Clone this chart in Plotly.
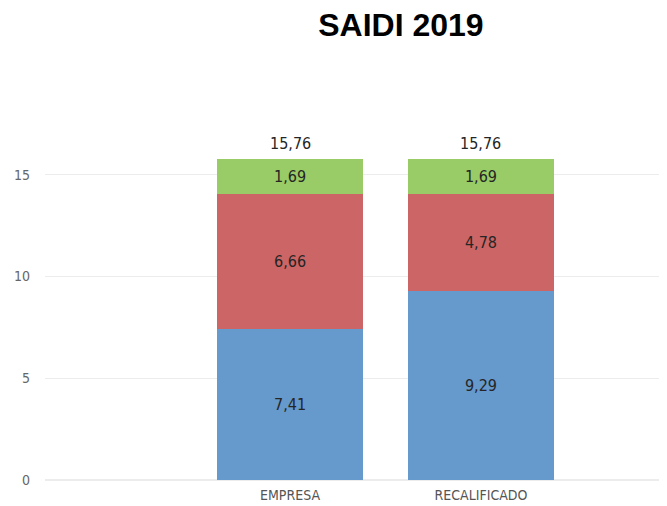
import plotly.graph_objects as go

categories = ["EMPRESA", "RECALIFICADO"]
blue_values = [7.41, 9.29]
red_values = [6.66, 4.78]
green_values = [1.69, 1.69]
totals = [15.76, 15.76]

FONT = "DejaVu Sans Condensed, Liberation Sans Narrow, sans-serif"
label_font = dict(family=FONT, size=16, color="#252525")

fig = go.Figure()

for vals, color in [(blue_values, "#6699CC"), (red_values, "#CC6666"), (green_values, "#99CC66")]:
    fig.add_trace(
        go.Bar(
            x=categories,
            y=vals,
            marker=dict(color=color, line=dict(width=0)),
            width=0.76,
            texttemplate="%{y:.2f}",
            textposition="inside",
            insidetextanchor="middle",
            textfont=label_font,
            showlegend=False,
            hoverinfo="skip",
        )
    )

# total labels above the stacks
for cat, tot in zip(categories, totals):
    fig.add_annotation(
        x=cat,
        y=tot,
        text=f"{tot:.2f}".replace(".", ","),
        showarrow=False,
        yanchor="middle",
        yshift=16,
        font=label_font,
    )

fig.update_layout(
    barmode="stack",
    separators=", ",
    width=667,
    height=506,
    margin=dict(l=37, r=0, t=122, b=34),
    plot_bgcolor="white",
    paper_bgcolor="white",
    title=dict(
        text="<b>SAIDI 2019</b>",
        x=0.565,
        xanchor="center",
        xref="paper",
        y=1 - 17 / 506,
        yref="container",
        yanchor="middle",
        font=dict(family="Liberation Sans, Arial, sans-serif", size=32, color="black"),
    ),
    xaxis=dict(
        range=[-1.283, 2.016],
        showgrid=False,
        showline=False,
        ticks="",
        ticklabelstandoff=5,
        tickfont=dict(family=FONT, size=14, color="#555555"),
    ),
    yaxis=dict(
        range=[0, 17.2],
        tickvals=[0, 5, 10, 15],
        showgrid=True,
        gridcolor="#ececec",
        gridwidth=1,
        zeroline=True,
        zerolinecolor="#ececec",
        showline=False,
        ticks="",
        ticklabelstandoff=14,
        tickfont=dict(family=FONT, size=14, color="#666666"),
    ),
)

fig.write_html("out.html")
